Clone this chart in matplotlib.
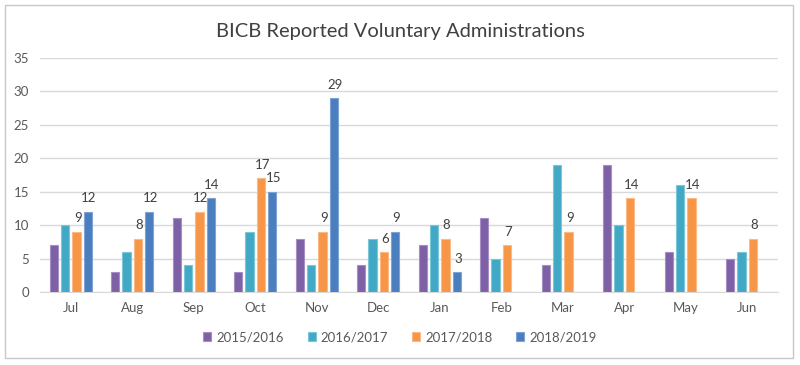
import numpy as np
import matplotlib
matplotlib.use("Agg")
import matplotlib.pyplot as plt
from matplotlib.patches import Rectangle

plt.rcParams['font.family'] = ['Lato', 'DejaVu Sans']

months = ["Jul", "Aug", "Sep", "Oct", "Nov", "Dec", "Jan", "Feb", "Mar", "Apr", "May", "Jun"]
series_names = ["2015/2016", "2016/2017", "2017/2018", "2018/2019"]
s2015 = [7, 3, 11, 3, 8, 4, 7, 11, 4, 19, 6, 5]
s2016 = [10, 6, 4, 9, 4, 8, 10, 5, 19, 10, 16, 6]
s2017 = [9, 8, 12, 17, 9, 6, 8, 7, 9, 14, 14, 8]
s2018 = [12, 12, 14, 15, 29, 9, 3, np.nan, np.nan, np.nan, np.nan, np.nan]
yticks = [0, 5, 10, 15, 20, 25, 30, 35]

colors = ["#7E60A6", "#41A9C6", "#F79646", "#4A7EBE"]
edges = ["#A58FC4", "#7CC6DA", "#FBB985", "#7FA3D3"]
labelled = [False, False, True, True]

fig = plt.figure(figsize=(8, 3.65), dpi=100)
fig.patches.append(Rectangle((0.006, 0.02), 0.985, 0.965, transform=fig.transFigure,
                             fill=False, edgecolor="#C8C8C8", linewidth=1))
ax = fig.add_axes([0.05, 0.2, 0.9225, 0.641])

x = np.arange(len(months))
w = 0.135
step = 0.185
data = [s2015, s2016, s2017, s2018]
for i, (vals, c, e, name) in enumerate(zip(data, colors, edges, series_names)):
    off = (i - 1.5) * step
    vals = np.array(vals, dtype=float)
    ax.bar(x + off, vals, width=w, color=c, edgecolor=e, linewidth=0.8,
           label=name, zorder=3)
    if labelled[i]:
        for xi, v in zip(x + off, vals):
            if not np.isnan(v):
                ax.text(xi + 0.02, v + 1.1, f"{int(v)}", ha="center", va="bottom",
                        fontsize=9.5, color="#404040", zorder=4)

ax.set_xlim(-0.5, len(months) - 0.5)
ax.set_ylim(0, 35)
ax.set_yticks(yticks)
ax.set_xticks(x)
ax.set_xticklabels(months)
ax.yaxis.grid(True, color="#D9D9D9", linewidth=1, zorder=0)
ax.set_axisbelow(True)
for s in ["top", "right", "left"]:
    ax.spines[s].set_visible(False)
ax.spines["bottom"].set_color("#D9D9D9")
ax.tick_params(axis="both", length=0, labelsize=9.5, labelcolor="#595959")
ax.tick_params(axis="x", pad=7)
ax.tick_params(axis="y", pad=8)

fig.text(0.5, 0.915, "BICB Reported Voluntary Administrations", ha="center", va="center",
         fontsize=14.5, color="#404040")

leg = fig.legend(loc="center", bbox_to_anchor=(0.5, 0.076), ncol=4, frameon=False,
                 fontsize=9.5, handlelength=0.6, handleheight=0.6, handletextpad=0.4,
                 columnspacing=1.8)
for t in leg.get_texts():
    t.set_color("#595959")

fig.savefig("out.png", dpi=100)
